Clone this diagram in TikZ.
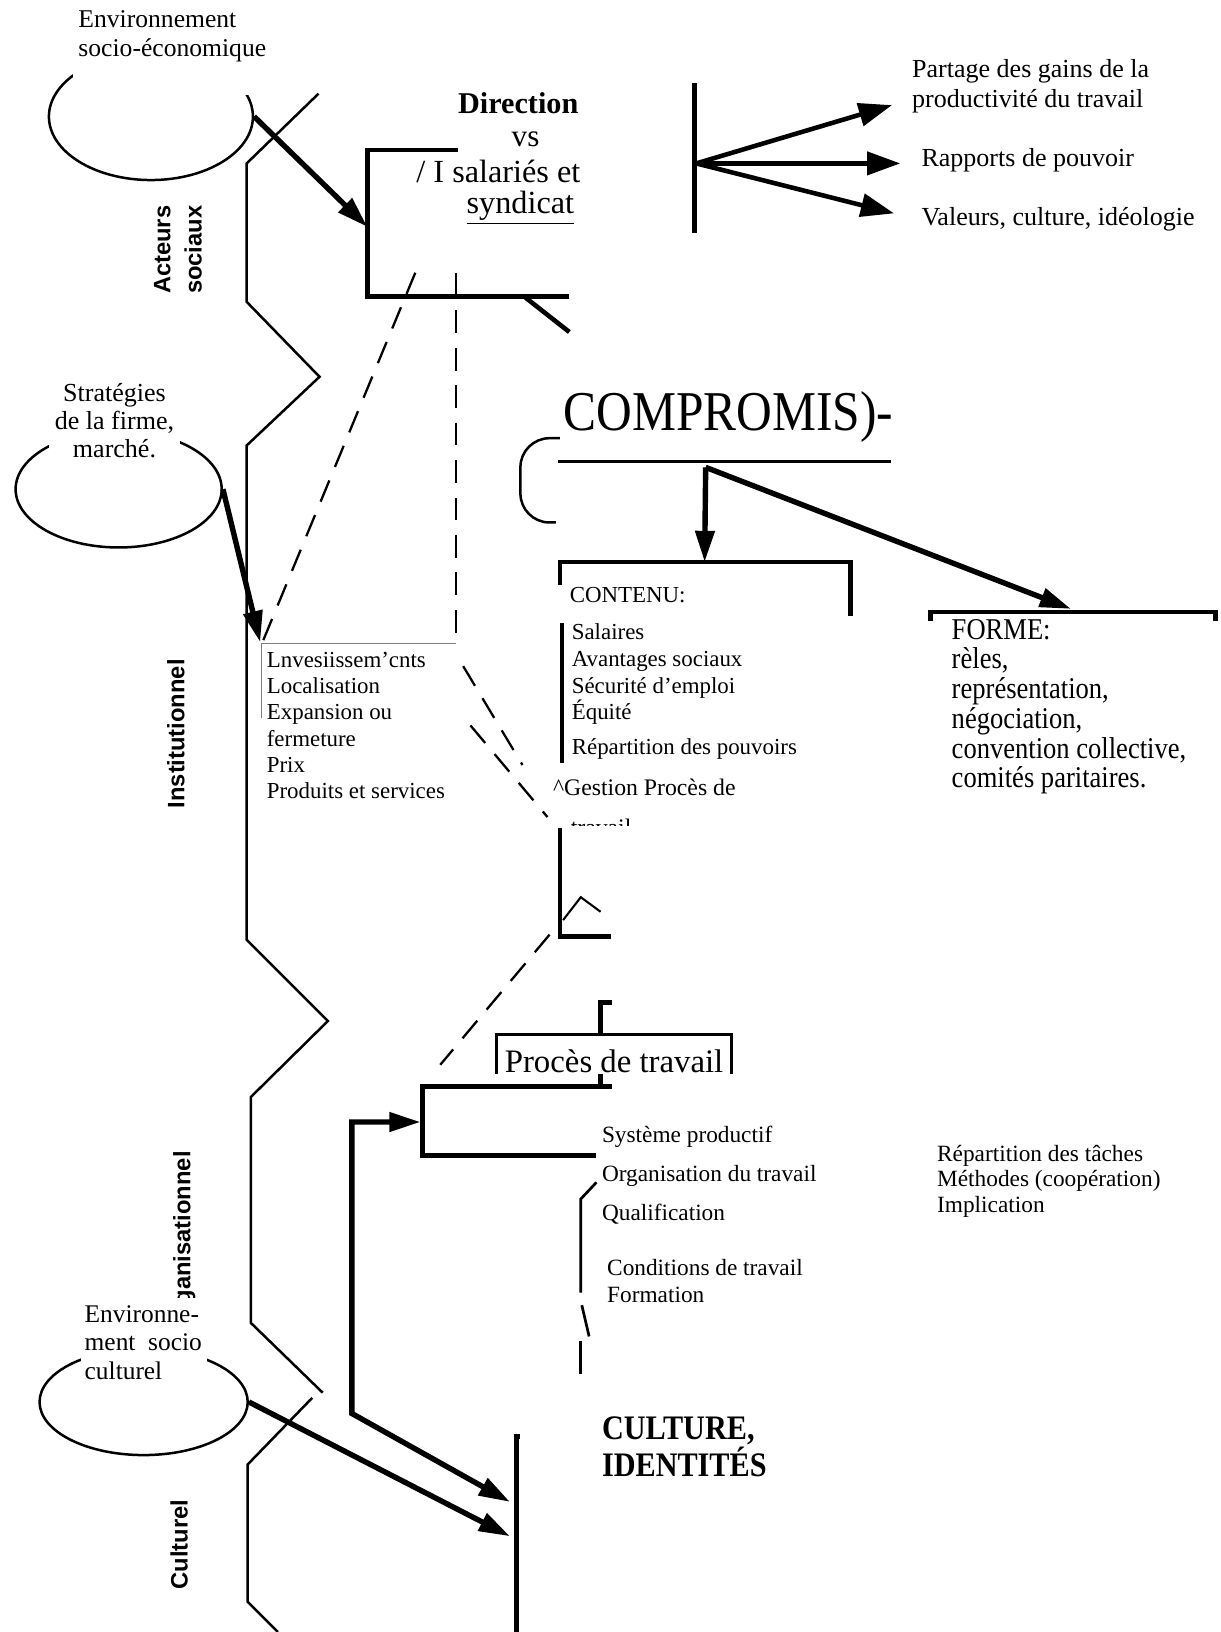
\documentclass[tikz,border=0pt]{standalone}
\usepackage{fontspec}
\setmainfont{Liberation Serif}
\newfontfamily\narrowserif{Liberation Serif}[FakeStretch=0.88]
\newfontfamily\levelsans{Liberation Sans}
\usetikzlibrary{arrows.meta,shapes.geometric}

\tikzset{
  frontier/.style={line width=1.2pt},
  bar/.style={line width=2.2pt},
  flow/.style={line width=2.6pt,-{Triangle[length=15pt,width=9pt]}},
  dashlink/.style={line width=1.1pt,dash pattern=on 11pt off 7pt},
  level/.style={font=\levelsans\bfseries\fontsize{11.4}{15}\selectfont,rotate=90,align=center,inner sep=0pt},
  txt/.style={inner sep=0pt,align=left,anchor=west},
  envir/.style={ellipse,draw,line width=1.2pt,inner sep=0pt},
  patch/.style={fill=white}
}

\begin{document}
\begin{tikzpicture}[x=0.5pt,y=-0.5pt]
    \useasboundingbox (0,0) rectangle (1173,1568);
    % Frontier between the levels
        \draw[frontier] (306,90) -- (237,157) -- (237,290) -- (307,362) -- (237,428)
            -- (237,903) -- (315,981) -- (241,1054) -- (241,1271) -- (310,1338);
        \draw[frontier] (300,1343) -- (238,1407) -- (238,1539) -- (267,1568);
    % Levels
        \node[level] (acteurs) at (171,240) {Acteurs\\sociaux};
        \node[level] (instit) at (169,705) {Institutionnel};
        \node[level] (organis) at (177,1193) {Organisationnel};
        \node[level] (culturel) at (172,1484) {Culturel};
    % Environments
        \node[envir, minimum width=98pt, minimum height=61pt] (envEco) at (145,112) {};
        \node[envir, minimum width=99pt, minimum height=56pt] (firme) at (114,470) {};
        \node[envir, minimum width=100pt, minimum height=51pt] (envCult) at (138,1347) {};
        \fill[patch] (70,0) rectangle (280,91);
        \fill[patch] (47,363) rectangle (173,445);
        \fill[patch] (78,1247) rectangle (199,1330);
        \node[txt, font=\fontsize{12.3}{14}\selectfont] (envEcoTxt) at (75,35) {Environnement\\socio-économique};
        \node[font=\fontsize{12.5}{13.5}\selectfont, align=center, inner sep=0pt] (firmeTxt) at (110,404) {Stratégies\\de la firme,\\marché.};
        \node[txt, font=\fontsize{12.2}{13.5}\selectfont] (envCultTxt) at (81,1290) {Environne-\\ment\ \ socio\\culturel};
    % Direction vs salaries
        \draw[bar] (440,144) -- (353,144) -- (353,285) -- (547,285);
        \draw[bar] (505,286) -- (547,319);
        \coordinate (dirIn) at (353,218);
        \node[anchor=east, inner sep=0pt, font=\bfseries\fontsize{14.5}{16}\selectfont] (direction) at (556,99) {Direction};
        \node[inner sep=0pt, font=\fontsize{15}{16}\selectfont] (vs) at (505,134) {vs};
        \node[anchor=east, inner sep=0pt, font=\fontsize{15.5}{17}\selectfont] (salaries) at (558,165) {/ I salariés et};
        \node[anchor=east, inner sep=0pt, font=\fontsize{15.5}{17}\selectfont] (syndicat) at (552,200) {\underline{syndicat}};
        \draw[flow] (envEco.east) -- (dirIn);
    % Dashed links
        \coordinate (dirA) at (399,262);
        \coordinate (dirB) at (438,262);
        \coordinate (investTop) at (253,615);
        \coordinate (dirBend) at (438,612);
        \draw[dashlink] (dirA) -- (investTop);
        \draw[dashlink] (dirB) -- (dirBend);
        \coordinate (gestA1) at (445,640);
        \coordinate (gestA2) at (502,735);
        \coordinate (gestB1) at (452,697);
        \coordinate (gestB2) at (526,785);
        \draw[dashlink] (gestA1) -- (gestA2);
        \draw[dashlink] (gestB1) -- (gestB2);
    % Outcomes
        \draw[bar] (667,80) -- (667,224);
        \coordinate (hub) at (669,157);
        \node[txt, font=\fontsize{12.5}{14.5}\selectfont] (partage) at (876,83) {Partage des gains de la\\productivité du travail};
        \node[txt, font=\fontsize{12.5}{14}\selectfont] (pouvoir) at (885,154) {Rapports de pouvoir};
        \node[txt, font=\fontsize{12.5}{14}\selectfont] (valeurs) at (885,211) {Valeurs, culture, idéologie};
        \coordinate (toPartage) at (857,101);
        \coordinate (toPouvoir) at (865,157);
        \coordinate (toValeurs) at (859,205);
        \draw[flow, line width=2.2pt, -{Triangle[length=16pt,width=11pt]}] (hub) -- (toPartage);
        \draw[flow, line width=2.2pt, -{Triangle[length=16pt,width=11pt]}] (hub) -- (toPouvoir);
        \draw[flow, line width=2.2pt, -{Triangle[length=16pt,width=11pt]}] (hub) -- (toValeurs);
    % Compromis
        \node[anchor=base west, inner sep=0pt, font=\narrowserif\fontsize{27}{30}\selectfont] (compromis) at (541,414) {COMPROMIS)-};
        \draw[line width=1.5pt] (536,443) -- (856,443);
        \draw[line width=1.2pt, rounded corners=14pt] (538,421) -- (500,421) -- (500,502) -- (534,502);
        \coordinate (cmpHub) at (678,449);
        \coordinate (contTop) at (677,540);
        \coordinate (formeTop) at (1029,585);
        \draw[flow] (cmpHub) -- (contTop);
        \draw[flow] (cmpHub) -- (formeTop);
    % Contenu
        \draw[bar] (538,562) -- (538,540) -- (817,540) -- (817,592);
        \draw[bar] (540,599) -- (540,733);
        \node[txt, font=\fontsize{11}{12}\selectfont] (contenu) at (547,572) {CONTENU:};
        \node[txt, font=\fontsize{11}{12.8}\selectfont] (avantages) at (549,648) {Salaires\\Avantages sociaux\\Sécurité d'emploi\\Équité};
        \node[txt, font=\fontsize{11}{12}\selectfont] (pouvoirs) at (549,720) {Répartition des pouvoirs};
        \node[txt, font=\fontsize{11.4}{12}\selectfont] (gestion) at (531,756) {\textasciicircum Gestion Procès de};
        \begin{scope}
            \clip (540,776) rectangle (640,793);
            \node[txt, font=\fontsize{11.4}{12}\selectfont] (travailCut) at (548,795) {travail};
        \end{scope}
        \draw[bar] (538,796) -- (538,900) -- (587,900);
        \draw[line width=1pt] (541,884) -- (558,862) -- (577,876);
        \coordinate (gestCorner) at (528,898);
        \coordinate (procesTip) at (423,1023);
        \draw[dashlink] (gestCorner) -- (procesTip);
    % Forme
        \draw[bar] (894,597) -- (894,588) -- (1168,588) -- (1168,597);
        \node[txt, font=\narrowserif\fontsize{14.5}{14.3}\selectfont] (forme) at (914,679) {FORME:\\rèles,\\représentation,\\négociation,\\convention collective,\\comités paritaires.};
    % Institutionnel
        \draw[gray, line width=0.6pt] (251,690) -- (251,618) -- (438,618);
        \node[txt, font=\fontsize{11}{12.6}\selectfont] (invest) at (256,697) {Lnvesiissem'cnts\\Localisation\\Expansion ou\\fermeture\\Prix\\Produits et services};
        \coordinate (investIn) at (250,617);
        \draw[flow] (firme.east) -- (investIn);
    % Proces de travail
        \draw[line width=1.3pt] (477,1032) -- (477,994) -- (703,994) -- (703,1032);
        \node[inner sep=0pt, font=\fontsize{15.75}{17}\selectfont] (proces) at (590,1020) {Procès de travail};
        \draw[bar] (588,963) -- (577,963) -- (577,994);
        \draw[bar] (577,1032) -- (577,1046);
        \draw[bar] (588,1044) -- (406,1044) -- (406,1110) -- (573,1110);
        \node[txt, font=\fontsize{11.2}{18.75}\selectfont] (systeme) at (578,1129) {Système productif\\Organisation du travail\\Qualification};
        \node[txt, font=\fontsize{11.2}{13}\selectfont] (conditions) at (583,1231) {Conditions de travail\\Formation};
        \node[txt, font=\fontsize{11.2}{12.25}\selectfont] (taches) at (900,1135) {Répartition des tâches\\Méthodes (coopération)\\Implication};
        \draw[line width=1.3pt] (573,1136) -- (558,1152) -- (558,1242);
        \draw[line width=1.3pt] (559,1254) -- (566,1284);
        \draw[line width=1.3pt] (558,1288) -- (558,1320);
    % Culture
        \coordinate (sysIn) at (404,1078);
        \coordinate (cultA) at (490,1443);
        \coordinate (cultB) at (490,1476);
        \draw[flow, {Triangle[length=15pt,width=9pt]}-{Triangle[length=15pt,width=9pt]}] (sysIn) -- (338,1078) -- (338,1358) -- (cultA);
        \draw[flow] (envCult.east) -- (cultB);
        \draw[bar] (500,1380) -- (496,1380) -- (496,1568);
        \node[txt, font=\narrowserif\bfseries\fontsize{16.5}{14.5}\selectfont] (culture) at (578,1390) {CULTURE,\\IDENTITÉS};
    \end{tikzpicture}
\end{document}
